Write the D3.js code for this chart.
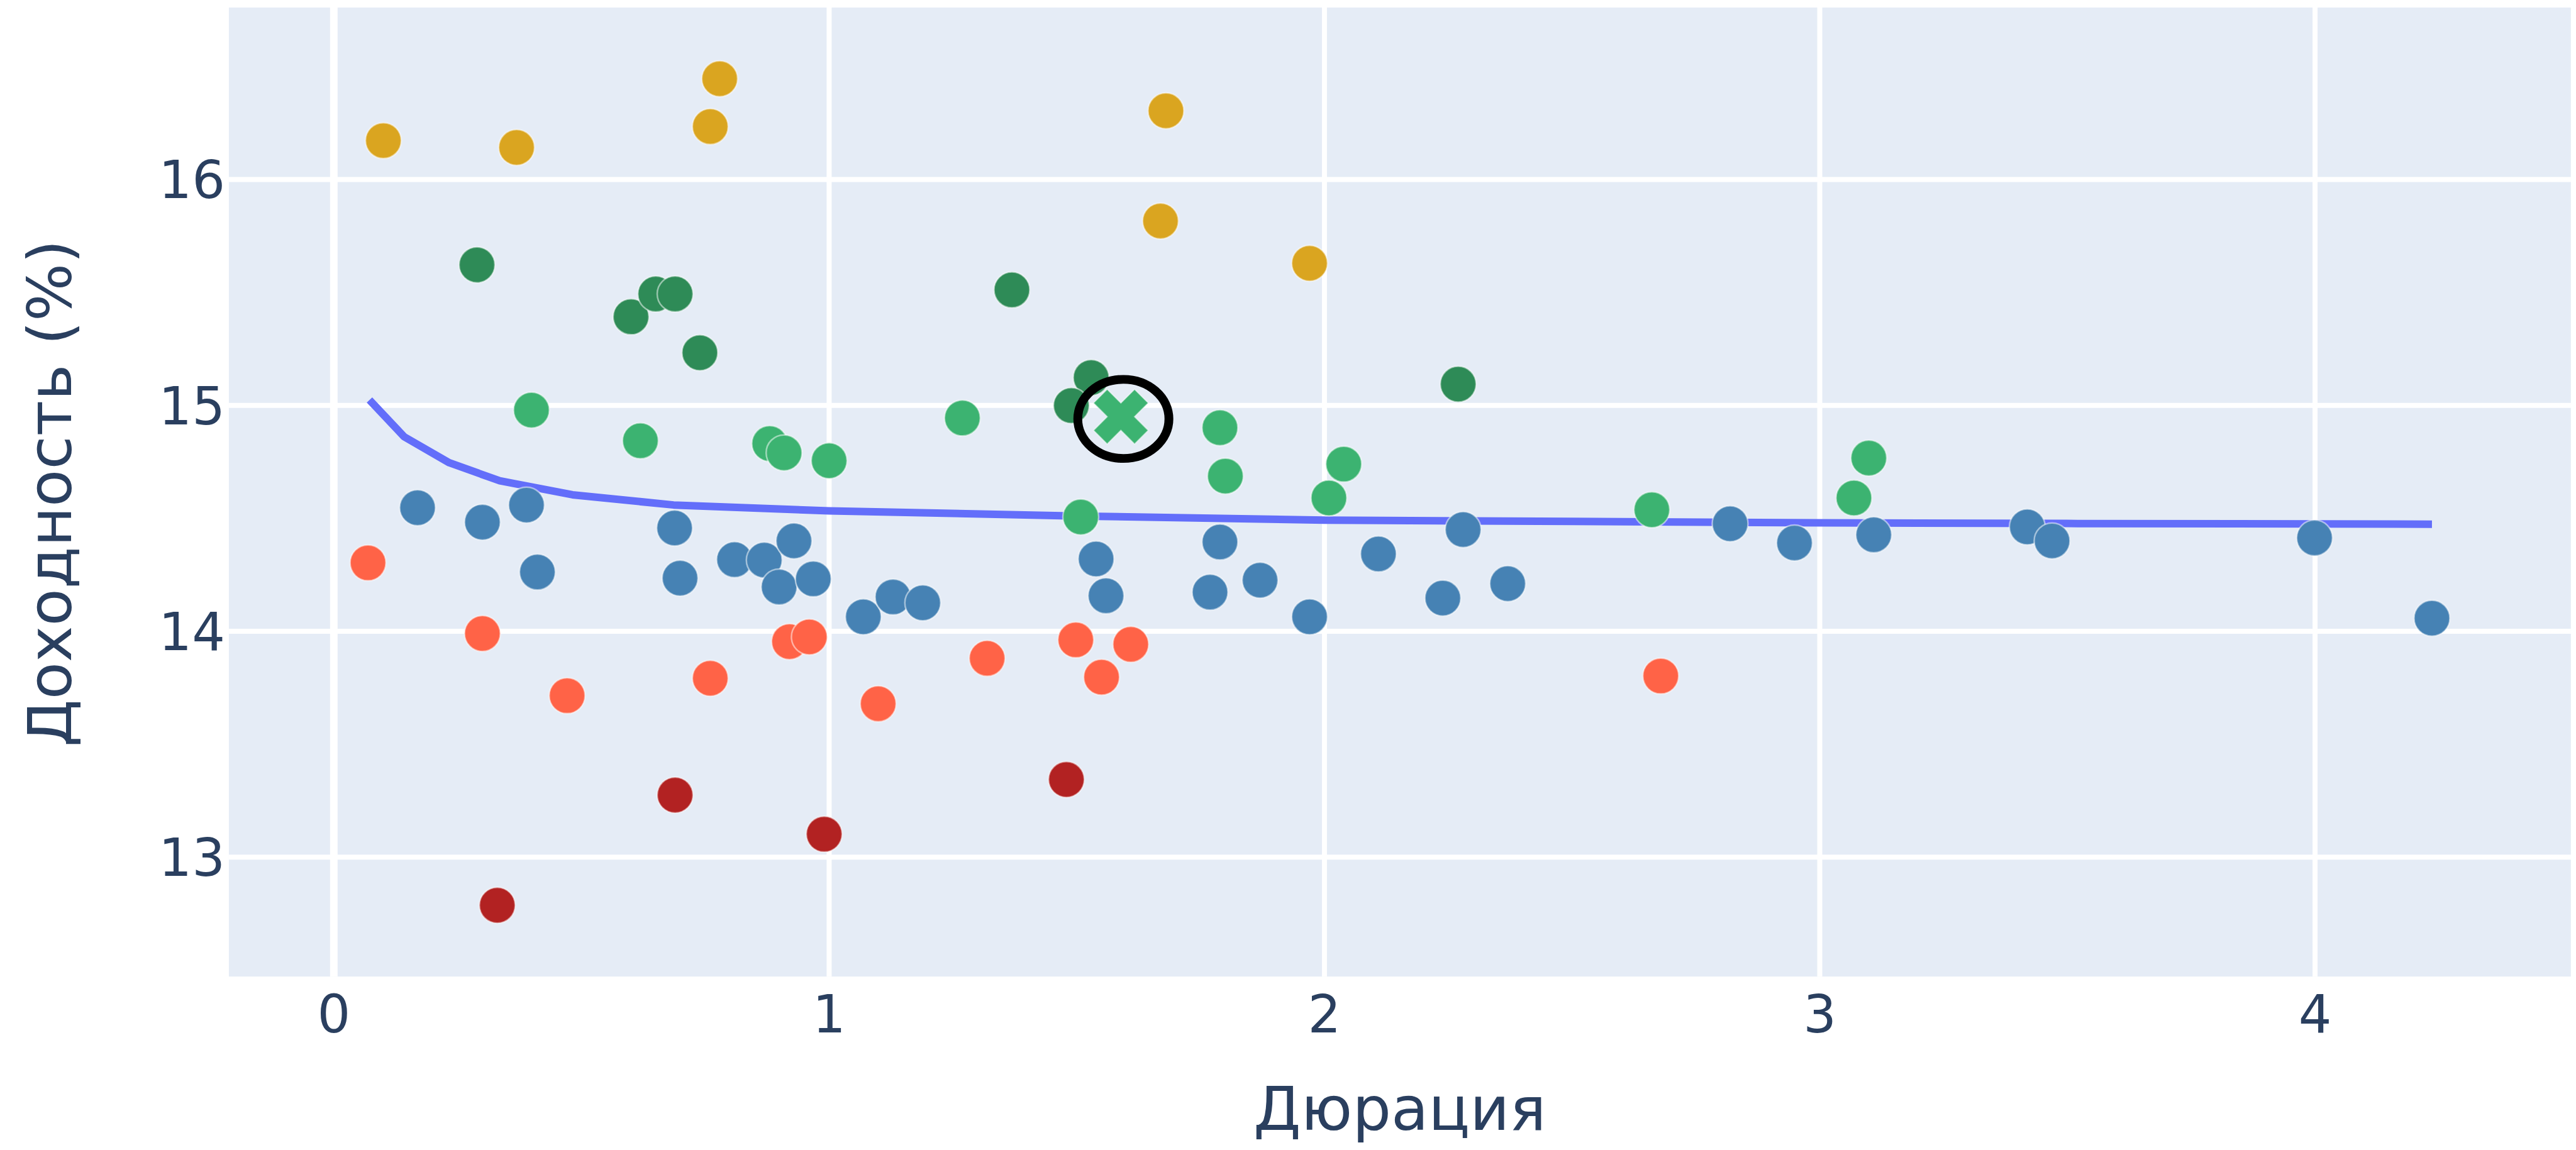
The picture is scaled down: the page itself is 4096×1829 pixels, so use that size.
<!DOCTYPE html>
<html>
<head>
<meta charset="utf-8">
<script src="https://cdn.jsdelivr.net/npm/d3@7"></script>
<style>
  body { margin: 0; background: #fff; }
  text { font-family: "DejaVu Sans", Verdana, sans-serif; fill: #2a3f5f; }
</style>
</head>
<body>
<div id="chart"></div>
<script>
const FRAME_WIDTH = 4098;
const FRAME_HEIGHT = 1830;
const PLOT = {left: 364, right: 4090, top: 12, bottom: 1554};

// data, grouped by marker colour
const goldDur = [0.100, 0.369, 0.779, 0.760, 1.680, 1.669, 1.970];
const goldYield = [16.172, 16.142, 16.446, 16.234, 16.304, 15.816, 15.629];

const darkGreenDur = [0.289, 0.600, 0.650, 0.689, 0.739, 1.369, 1.529, 1.489, 2.270];
const darkGreenYield = [15.622, 15.392, 15.493, 15.493, 15.233, 15.511, 15.123, 14.999, 15.094];

const greenDur = [0.399, 0.619, 0.880, 0.909, 1.000, 1.269, 1.508, 1.789, 1.800, 2.039, 2.009, 2.661, 3.099, 3.069];
const greenYield = [14.979, 14.843, 14.831, 14.790, 14.755, 14.944, 14.506, 14.901, 14.687, 14.740, 14.590, 14.538, 14.767, 14.590];

const blueDur = [0.169, 0.300, 0.389, 0.411, 0.688, 0.699, 0.809, 0.869, 0.899, 0.929, 0.968, 1.069, 1.129, 1.189,
                 1.539, 1.559, 1.769, 1.789, 1.870, 1.970, 2.109, 2.239, 2.280, 2.370, 2.819, 2.949, 3.109, 3.419,
                 3.469, 3.999, 4.236];
const blueYield = [14.547, 14.483, 14.559, 14.262, 14.457, 14.235, 14.317, 14.315, 14.196, 14.400, 14.232, 14.064, 14.152, 14.126,
                   14.320, 14.157, 14.173, 14.395, 14.226, 14.064, 14.342, 14.147, 14.450, 14.211, 14.476, 14.391, 14.427, 14.462,
                   14.400, 14.413, 14.058];

const tomatoDur = [0.069, 0.300, 0.471, 0.760, 0.920, 0.960, 1.099, 1.319, 1.498, 1.550, 1.609, 2.679];
const tomatoYield = [14.303, 13.990, 13.715, 13.792, 13.954, 13.975, 13.679, 13.880, 13.962, 13.797, 13.942, 13.802];

const redDur = [0.330, 0.689, 0.990, 1.479];
const redYield = [12.787, 13.275, 13.102, 13.344];

// fitted curve
const curveDur = [0.072, 0.142, 0.233, 0.335, 0.482, 0.686, 1.0, 1.5, 2.0, 2.5, 3.0, 3.5, 4.0, 4.236];
const curveYield = [15.024, 14.861, 14.746, 14.666, 14.604, 14.559, 14.533, 14.510, 14.492, 14.486, 14.480, 14.477, 14.475, 14.474];

// highlighted bond and the ring around it
const markDur = [1.589];
const markYield = [14.950];
const ringDur = [1.502, 1.686];
const ringYield = [14.765, 15.115];

const xTicks = [0, 1, 2, 3, 4];
const yTicks = [13, 14, 15, 16];

const groups = [
  {dur: blueDur, yld: blueYield, color: "#4682B4"},
  {dur: tomatoDur, yld: tomatoYield, color: "#FF6347"},
  {dur: redDur, yld: redYield, color: "#B22222"},
  {dur: greenDur, yld: greenYield, color: "#3CB371"},
  {dur: darkGreenDur, yld: darkGreenYield, color: "#2E8B57"},
  {dur: goldDur, yld: goldYield, color: "#DAA520"}
];

const svg = d3.select("#chart")
              .append("svg")
                .attr("width", 4096)
                .attr("height", 1829)
                .attr("viewBox", "0 0 " + FRAME_WIDTH + " " + FRAME_HEIGHT);

let xScale = d3.scaleLinear().domain([-0.2119, 4.5165]).range([PLOT.left, PLOT.right]);
let yScale = d3.scaleLinear().domain([12.4715, 16.761]).range([PLOT.bottom, PLOT.top]);

// plot background
svg.append("rect")
    .attr("x", PLOT.left)
    .attr("y", PLOT.top)
    .attr("width", PLOT.right - PLOT.left)
    .attr("height", PLOT.bottom - PLOT.top)
    .attr("fill", "#E5ECF6");

// grid
svg.append("g")
    .selectAll("line")
    .data(yTicks)
    .enter()
    .append("line")
    .attr("x1", PLOT.left).attr("x2", PLOT.right)
    .attr("y1", d => yScale(d)).attr("y2", d => yScale(d))
    .attr("stroke", "#fff")
    .attr("stroke-width", 8);

svg.append("g")
    .selectAll("line")
    .data(xTicks)
    .enter()
    .append("line")
    .attr("x1", d => xScale(d)).attr("x2", d => xScale(d))
    .attr("y1", PLOT.top).attr("y2", PLOT.bottom)
    .attr("stroke", "#fff")
    .attr("stroke-width", d => d === 0 ? 12 : 8);

// tick labels
svg.append("g")
    .selectAll("text")
    .data(xTicks)
    .enter()
    .append("text")
    .attr("x", d => xScale(d))
    .attr("y", 1643)
    .attr("text-anchor", "middle")
    .attr("font-size", 83)
    .text(d => d);

svg.append("g")
    .selectAll("text")
    .data(yTicks)
    .enter()
    .append("text")
    .attr("x", 358)
    .attr("y", d => yScale(d) + 30)
    .attr("text-anchor", "end")
    .attr("font-size", 83)
    .text(d => d);

// axis titles
svg.append("text")
    .attr("x", (PLOT.left + PLOT.right) / 2)
    .attr("y", 1798)
    .attr("text-anchor", "middle")
    .attr("font-size", 97)
    .text("Дюрация");

svg.append("text")
    .attr("transform", "translate(113," + ((PLOT.top + PLOT.bottom) / 2 + 2) + ") rotate(-90)")
    .attr("text-anchor", "middle")
    .attr("font-size", 97)
    .text("Доходность (%)");

// fitted line
const lineData = curveDur.map((d, i) => [d, curveYield[i]]);
svg.append("path")
    .datum(lineData)
    .attr("fill", "none")
    .attr("stroke", "#636EFA")
    .attr("stroke-width", 12)
    .attr("stroke-linejoin", "round")
    .attr("d", d3.line().x(d => xScale(d[0])).y(d => yScale(d[1])));

// scatter points
groups.forEach(function(grp) {
  svg.append("g")
      .selectAll("circle")
      .data(grp.dur.map((d, i) => [d, grp.yld[i]]))
      .enter()
      .append("circle")
      .attr("cx", d => xScale(d[0]))
      .attr("cy", d => yScale(d[1]))
      .attr("r", 28.5)
      .attr("fill", grp.color)
      .attr("stroke", "#fff")
      .attr("stroke-opacity", 0.5)
      .attr("stroke-width", 2.5);
});

// plotly-like "x" symbol
function xSymbol(r) {
  const rx = r * 0.8 / Math.SQRT2;
  const ne = "l" + rx + "," + rx, se = "l" + rx + "," + (-rx);
  const sw = "l" + (-rx) + "," + (-rx), nw = "l" + (-rx) + "," + rx;
  return "M0," + rx + ne + se + sw + se + sw + nw + sw + nw + ne + nw + ne + "Z";
}

svg.append("g")
    .selectAll("path")
    .data(markDur.map((d, i) => [d, markYield[i]]))
    .enter()
    .append("path")
    .attr("transform", d => "translate(" + xScale(d[0]) + "," + yScale(d[1]) + ")")
    .attr("d", xSymbol(38.5))
    .attr("fill", "#3CB371")
    .attr("stroke", "#fff")
    .attr("stroke-opacity", 0.5)
    .attr("stroke-width", 2);

// ring
svg.append("ellipse")
    .attr("cx", (xScale(ringDur[0]) + xScale(ringDur[1])) / 2)
    .attr("cy", (yScale(ringYield[0]) + yScale(ringYield[1])) / 2)
    .attr("rx", Math.abs(xScale(ringDur[1]) - xScale(ringDur[0])) / 2)
    .attr("ry", Math.abs(yScale(ringYield[1]) - yScale(ringYield[0])) / 2)
    .attr("fill", "none")
    .attr("stroke", "#000")
    .attr("stroke-width", 14);
</script>
</body>
</html>
